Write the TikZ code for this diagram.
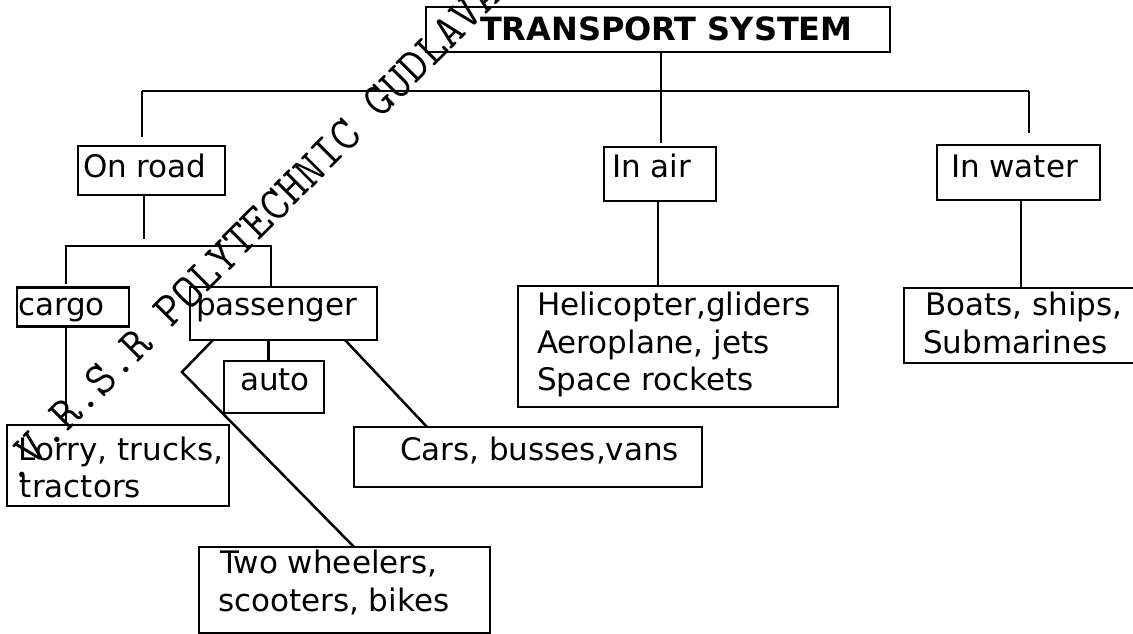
\documentclass[tikz,border=0pt]{standalone}
\usepackage{fontspec}
\setmainfont{DejaVu Sans}
\newfontfamily\titlef{DejaVu Sans}
\usetikzlibrary{calc}
\newcommand\bxl[3]{\makebox[#1pt][l]{\hspace*{#2pt}#3}}
\newcommand\tstr[1]{\rule{0pt}{#1pt}}
\newcommand\dstr[1]{\rule[-#1pt]{0pt}{#1pt}}
\begin{document}
\begin{tikzpicture}[x=1pt,y=-1pt,
  box/.style={draw,line width=2.5pt,inner sep=0pt,outer sep=0pt,align=left,
    font=\fontsize{31}{37.5}\selectfont},
  titlebox/.style={box,font=\titlef\bfseries\fontsize{32}{32}\selectfont},
  conn/.style={line width=2.5pt},
  watermark/.style={rotate=45,anchor=base west,inner sep=0pt,
    font=\ttfamily\fontsize{47.8}{47.8}\selectfont}]
\useasboundingbox (0,0) rectangle (1133,634);
\clip (0,0) rectangle (1133,634);

% boxes
\node[titlebox] (ts) at (658,29.5) {\bxl{464}{54}{TRANSPORT SYSTEM\tstr{33.7}\dstr{11.3}}};
\node[box] (onroad) at (151.5,170.5) {\bxl{147}{5}{On road\tstr{31.5}\dstr{17.5}}};
\node[box] (inair) at (660,174) {\bxl{112}{8}{In air\tstr{30.5}\dstr{23.5}}};
\node[box] (inwater) at (1018.5,172.5) {\bxl{163}{14}{In water\tstr{32.5}\dstr{22.5}}};
\node[box] (cargo) at (73,307) {\bxl{112}{1}{cargo\tstr{28.2}\dstr{11.2}}};
\node[box] (pass) at (283.5,313.5) {\bxl{187}{6}{passenger\tstr{28.5}\dstr{24.5}}};
\node[box] (auto) at (274,387) {\bxl{100}{16}{auto\tstr{29.5}\dstr{22.5}}};
\node[box] (lorry) at (118,465.5) {\bxl{222}{12}{Lorry, trucks,\tstr{35}}\\\bxl{222}{13}{tractors\dstr{8.5}}};
\node[box] (cars) at (528,457) {\bxl{348}{46}{Cars, busses,vans\tstr{33.8}\dstr{26.2}}};
\node[box] (heli) at (678,346.5) {\bxl{320}{19}{Helicopter,gliders\tstr{29.5}}\\\bxl{320}{19}{Aeroplane, jets}\\\bxl{320}{19}{Space rockets\dstr{16.5}}};
\node[box] (boats) at (1024.5,325.5) {\bxl{241}{21}{Boats, ships,\tstr{27.5}}\\\bxl{241}{19}{Submarines\dstr{10}}};
\node[box] (two) at (344.5,590) {\bxl{291}{21}{Two wheelers,\tstr{26.5}}\\\bxl{291}{19}{scooters, bikes\dstr{22}}};

% bus coordinates
\coordinate (busL) at (142,91);
\coordinate (busR) at (1029,91);
\coordinate (b2L) at (66,246);
\coordinate (b2R) at (271,246);
\coordinate (bend) at (182,372);

% top level connectors
\draw[conn] (busL) -- (busR);
\draw[conn] ($(ts.south -| inair.north)+(1pt,0pt)$) -- ($(inair.north)+(1pt,4pt)$);
\draw[conn] (busL) -- ($(busL |- onroad.north)+(0pt,9pt)$);
\draw[conn] (busR) -- ($(busR |- inwater.north)+(0pt,12pt)$);
\draw[conn] ($(inair.south)+(-2pt,0pt)$) -- ($(inair.south |- heli.north)+(-2pt,0pt)$);
\draw[conn] ($(inwater.south)+(2.5pt,0pt)$) -- ($(inwater.south |- boats.north)+(2.5pt,0pt)$);

% road branch
\draw[conn] ($(onroad.south)+(-7.5pt,0pt)$) -- ($(onroad.south |- b2L)+(-7.5pt,7pt)$);
\draw[conn] ($(b2L |- cargo.north)+(0pt,3pt)$) -- (b2L) -- (b2R) -- (b2R |- pass.north);
\draw[conn] (b2L |- cargo.south) -- (b2L |- lorry.north);
\draw[conn] ($(pass.south)+(-15pt,0pt)$) -- ($(pass.south |- auto.north)+(-15pt,0pt)$);
\draw[conn] ($(pass.south west)+(23pt,0pt)$) -- (bend) -- ($(two.north west)+(155pt,0pt)$);
\draw[conn] ($(pass.south west)+(155pt,0pt)$) -- ($(cars.north west)+(73pt,0pt)$);

% watermark
\node[watermark] (wm) at (15.15,485.35) {.V.R.S.R POLYTECHNIC GUDLAVALLERU};
\end{tikzpicture}
\end{document}
